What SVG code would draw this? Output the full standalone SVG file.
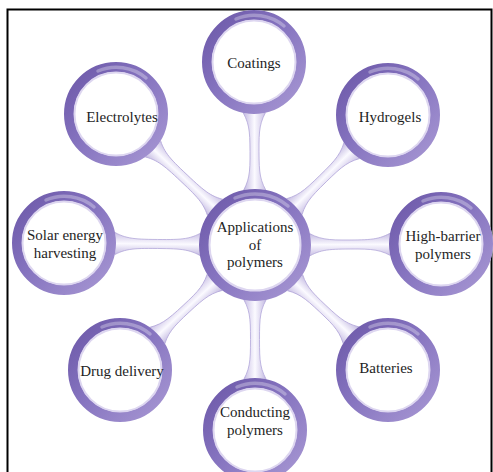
<svg xmlns="http://www.w3.org/2000/svg" width="493" height="472" viewBox="0 0 493 472">
  <defs>
    <!-- purple band of each ring -->
    <linearGradient id="ringGrad" x1="0" y1="0" x2="1" y2="1">
      <stop offset="0" stop-color="#6c58a8"/>
      <stop offset="0.45" stop-color="#8573bf"/>
      <stop offset="1" stop-color="#a797d3"/>
    </linearGradient>
    <!-- lavender tube shading across each connector -->
    <linearGradient id="tubeGrad" x1="0" y1="0" x2="0" y2="1">
      <stop offset="0" stop-color="#9d8ecb"/>
      <stop offset="0.18" stop-color="#cec6e7"/>
      <stop offset="0.5" stop-color="#fbfaff"/>
      <stop offset="0.82" stop-color="#d3cbea"/>
      <stop offset="1" stop-color="#a596d1"/>
    </linearGradient>
    <style>
      .tube { fill: url(#tubeGrad); stroke: #b3a7da; stroke-width: 0.8; }
      .core { fill: #ffffff; }
      .band { fill: none; stroke: url(#ringGrad); stroke-width: 10; }
      .rim { fill: none; stroke: #ddd6f0; stroke-width: 2; }
      .gloss { fill: none; stroke: #ffffff; stroke-opacity: 0.3; stroke-width: 3.5; stroke-linecap: round; }
      .label { font-family: "Liberation Serif", "Times New Roman", serif; font-size: 15px; fill: #1e1e1e; text-anchor: middle; }
    </style>
  </defs>

  <rect x="0" y="0" width="493" height="472" fill="#ffffff"/>
  <rect x="7.5" y="9.5" width="484" height="475" fill="none" stroke="#000000" stroke-width="2"/>

  <!-- connectors: tapered tubes from the hub to each application -->
  <g id="connectors">
    <path class="tube" transform="translate(255,245) rotate(-90.3)" d="M50,-14 C64,-5 72,-4.5 93.5,-4.5 C115,-4.5 123,-5 137,-14 L137,14 C123,5 115,4.5 93.5,4.5 C72,4.5 64,5 50,14Z"/>
    <path class="tube" transform="translate(255,245) rotate(-136.7)" d="M50,-14 C64,-5 72,-4.5 97.5,-4.5 C123,-4.5 131,-5 145,-14 L145,14 C131,5 123,4.5 97.5,4.5 C72,4.5 64,5 50,14Z"/>
    <path class="tube" transform="translate(255,245) rotate(-44.3)" d="M50,-14 C64,-5 72,-4.5 95,-4.5 C118,-4.5 126,-5 140,-14 L140,14 C126,5 118,4.5 95,4.5 C72,4.5 64,5 50,14Z"/>
    <path class="tube" transform="translate(255,245) rotate(180.6)" d="M50,-14 C64,-5 72,-4.5 97.5,-4.5 C123,-4.5 131,-5 145,-14 L145,14 C131,5 123,4.5 97.5,4.5 C72,4.5 64,5 50,14Z"/>
    <path class="tube" transform="translate(255,245) rotate(-0.3)" d="M50,-14 C64,-5 72,-4.5 95,-4.5 C118,-4.5 126,-5 140,-14 L140,14 C126,5 118,4.5 95,4.5 C72,4.5 64,5 50,14Z"/>
    <path class="tube" transform="translate(255,245) rotate(137.2)" d="M50,-14 C64,-5 72,-4.5 94,-4.5 C116,-4.5 124,-5 138,-14 L138,14 C124,5 116,4.5 94,4.5 C72,4.5 64,5 50,14Z"/>
    <path class="tube" transform="translate(255,245) rotate(43.2)" d="M50,-14 C64,-5 72,-4.5 93,-4.5 C114,-4.5 122,-5 136,-14 L136,14 C122,5 114,4.5 93,4.5 C72,4.5 64,5 50,14Z"/>
    <path class="tube" transform="translate(255,245) rotate(90)" d="M50,-14 C64,-5 72,-4.5 94.5,-4.5 C117,-4.5 125,-5 139,-14 L139,14 C125,5 117,4.5 94.5,4.5 C72,4.5 64,5 50,14Z"/>
  </g>

  <!-- hub -->
  <g id="hub" transform="translate(255,245)">
    <circle class="core" r="56"/>
    <circle class="band" r="51"/>
    <circle class="rim" r="45.5"/>
    <path class="gloss" d="M-20,-47 A51,51 0 0 1 33,-39"/>
    <text class="label" x="0" y="-13">Applications</text>
    <text class="label" x="0" y="5">of</text>
    <text class="label" x="0" y="22">polymers</text>
  </g>

  <g id="coatings" transform="translate(254,62)">
    <circle class="core" r="52"/>
    <circle class="band" r="47"/>
    <circle class="rim" r="41.5"/>
    <path class="gloss" d="M-18,-43 A47,47 0 0 1 30,-36"/>
    <text class="label" x="0" y="6">Coatings</text>
  </g>

  <g id="electrolytes" transform="translate(116,114)">
    <circle class="core" r="52"/>
    <circle class="band" r="47"/>
    <circle class="rim" r="41.5"/>
    <path class="gloss" d="M-18,-43 A47,47 0 0 1 30,-36"/>
    <text class="label" x="6" y="8">Electrolytes</text>
  </g>

  <g id="hydrogels" transform="translate(388,115)">
    <circle class="core" r="52"/>
    <circle class="band" r="47"/>
    <circle class="rim" r="41.5"/>
    <path class="gloss" d="M-18,-43 A47,47 0 0 1 30,-36"/>
    <text class="label" x="2" y="7">Hydrogels</text>
  </g>

  <g id="solar-energy" transform="translate(64,243)">
    <circle class="core" r="52"/>
    <circle class="band" r="47"/>
    <circle class="rim" r="41.5"/>
    <path class="gloss" d="M-18,-43 A47,47 0 0 1 30,-36"/>
    <text class="label" x="1" y="-3">Solar energy</text>
    <text class="label" x="1" y="15">harvesting</text>
  </g>

  <g id="high-barrier" transform="translate(441,244)">
    <circle class="core" r="52"/>
    <circle class="band" r="47"/>
    <circle class="rim" r="41.5"/>
    <path class="gloss" d="M-18,-43 A47,47 0 0 1 30,-36"/>
    <text class="label" x="2" y="-3">High-barrier</text>
    <text class="label" x="2" y="15">polymers</text>
  </g>

  <g id="drug-delivery" transform="translate(120,370)">
    <circle class="core" r="52"/>
    <circle class="band" r="47"/>
    <circle class="rim" r="41.5"/>
    <path class="gloss" d="M-18,-43 A47,47 0 0 1 30,-36"/>
    <text class="label" x="2" y="6">Drug delivery</text>
  </g>

  <g id="batteries" transform="translate(388,370)">
    <circle class="core" r="52"/>
    <circle class="band" r="47"/>
    <circle class="rim" r="41.5"/>
    <path class="gloss" d="M-18,-43 A47,47 0 0 1 30,-36"/>
    <text class="label" x="-2" y="3">Batteries</text>
  </g>

  <g id="conducting" transform="translate(255,430)">
    <circle class="core" r="52"/>
    <circle class="band" r="47"/>
    <circle class="rim" r="41.5"/>
    <path class="gloss" d="M-18,-43 A47,47 0 0 1 30,-36"/>
    <text class="label" x="0" y="-13">Conducting</text>
    <text class="label" x="0" y="5">polymers</text>
  </g>
</svg>
